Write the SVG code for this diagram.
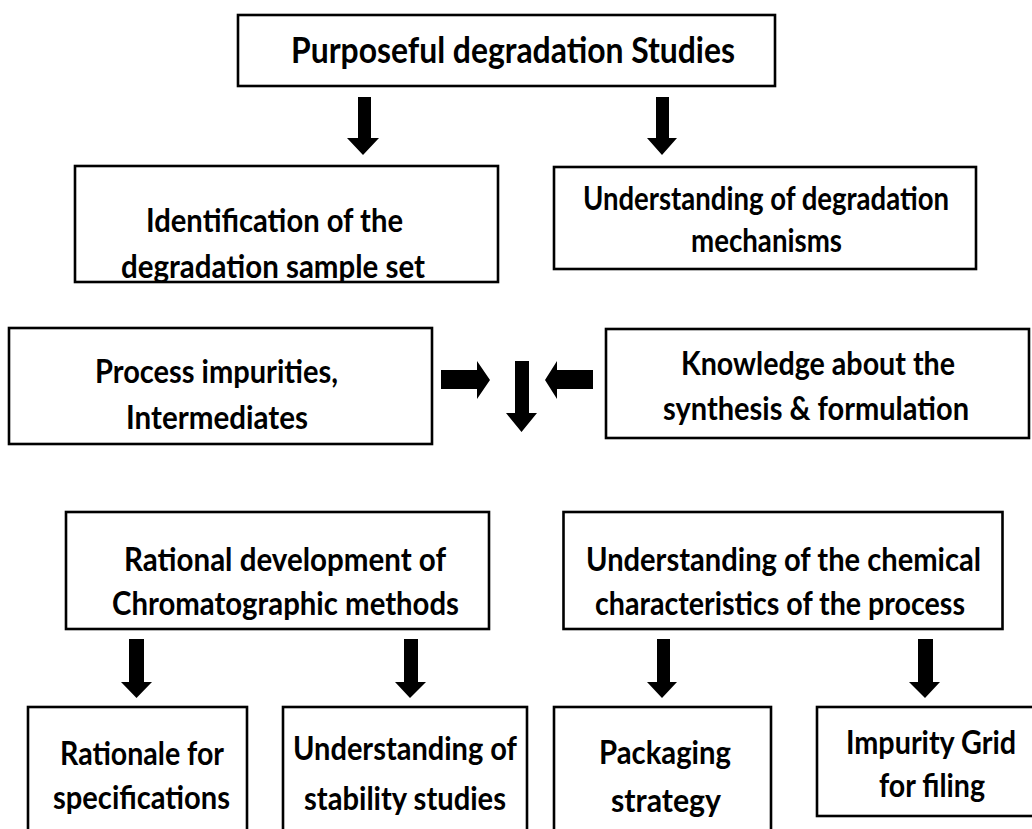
<svg xmlns="http://www.w3.org/2000/svg" width="1032" height="829" viewBox="0 0 1032 829">
<defs>
<style>
.box{fill:#fff;stroke:#000;stroke-width:2.6}
.t{font-family:Lato,"Open Sans","Liberation Sans",sans-serif;font-weight:700;font-size:33px;fill:#000}
.big{font-size:36px}
.arr{fill:#000}
</style>
</defs>
<rect width="1032" height="829" fill="#fff"/>
<g id="connectors">
<polygon class="arr" points="358,97 371,97 371,138 379,138 363,155 347,138 358,138"/>
<polygon class="arr" points="656,97 669,97 669,138 677,138 662,155 647,138 656,138"/>
<polygon class="arr" points="441,370 477,370 477,361 490,380 477,399 477,389 441,389"/>
<polygon class="arr" points="515,361 529,361 529,413 537,413 521.5,432 506,413 515,413"/>
<polygon class="arr" points="593,370 557,370 557,361 545,380 557,399 557,389 593,389"/>
<polygon class="arr" points="129,639 144,639 144,682 152,682 136.5,698 121,682 129,682"/>
<polygon class="arr" points="404,639 418,639 418,682 426,682 410,698 395,682 404,682"/>
<polygon class="arr" points="657,639 670,639 670,682 677,682 662,698 647,682 657,682"/>
<polygon class="arr" points="918,639 933,639 933,682 940,682 925,698 909,682 918,682"/>
</g>
<g id="n1"><rect class="box" x="238" y="15" width="537" height="71"/>
<text class="t big" x="291" y="63" textLength="444" lengthAdjust="spacingAndGlyphs">Purposeful degradation Studies</text></g>
<g id="n2"><rect class="box" x="75" y="166" width="423" height="116"/>
<text class="t" x="146" y="232" textLength="257" lengthAdjust="spacingAndGlyphs">Identification of the</text>
<text class="t" x="121" y="278" textLength="304" lengthAdjust="spacingAndGlyphs">degradation sample set</text></g>
<g id="n3"><rect class="box" x="554" y="167" width="422" height="102"/>
<text class="t" x="583" y="210" textLength="366" lengthAdjust="spacingAndGlyphs">Understanding of degradation</text>
<text class="t" x="691" y="252" textLength="151" lengthAdjust="spacingAndGlyphs">mechanisms</text></g>
<g id="n4"><rect class="box" x="9" y="328" width="423" height="116"/>
<text class="t" x="95" y="383" textLength="243" lengthAdjust="spacingAndGlyphs">Process impurities,</text>
<text class="t" x="126" y="429" textLength="182" lengthAdjust="spacingAndGlyphs">Intermediates</text></g>
<g id="n5"><rect class="box" x="606" y="329" width="423" height="109"/>
<text class="t" x="681" y="375" textLength="274" lengthAdjust="spacingAndGlyphs">Knowledge about the</text>
<text class="t" x="663" y="420" textLength="306" lengthAdjust="spacingAndGlyphs">synthesis &amp; formulation</text></g>
<g id="n6"><rect class="box" x="66" y="512" width="423" height="117"/>
<text class="t" x="124" y="571" textLength="322" lengthAdjust="spacingAndGlyphs">Rational development of</text>
<text class="t" x="112" y="615" textLength="347" lengthAdjust="spacingAndGlyphs">Chromatographic methods</text></g>
<g id="n7"><rect class="box" x="563.5" y="512" width="439" height="117"/>
<text class="t" x="586" y="571" textLength="395" lengthAdjust="spacingAndGlyphs">Understanding of the chemical</text>
<text class="t" x="595" y="615" textLength="370" lengthAdjust="spacingAndGlyphs">characteristics of the process</text></g>
<g id="n8"><rect class="box" x="28" y="707" width="219" height="140"/>
<text class="t" x="60" y="765" textLength="164" lengthAdjust="spacingAndGlyphs">Rationale for</text>
<text class="t" x="53" y="809" textLength="177" lengthAdjust="spacingAndGlyphs">specifications</text></g>
<g id="n9"><rect class="box" x="283" y="707" width="244" height="140"/>
<text class="t" x="293" y="760" textLength="224" lengthAdjust="spacingAndGlyphs">Understanding of</text>
<text class="t" x="304" y="810" textLength="202" lengthAdjust="spacingAndGlyphs">stability studies</text></g>
<g id="n10"><rect class="box" x="554" y="707" width="217" height="140"/>
<text class="t" x="599" y="764" textLength="132" lengthAdjust="spacingAndGlyphs">Packaging</text>
<text class="t" x="611" y="812" textLength="110" lengthAdjust="spacingAndGlyphs">strategy</text></g>
<g id="n11"><rect class="box" x="817" y="707" width="217" height="109"/>
<text class="t" x="846" y="754" textLength="170" lengthAdjust="spacingAndGlyphs">Impurity Grid</text>
<text class="t" x="879" y="797" textLength="106" lengthAdjust="spacingAndGlyphs">for filing</text></g>
</svg>
